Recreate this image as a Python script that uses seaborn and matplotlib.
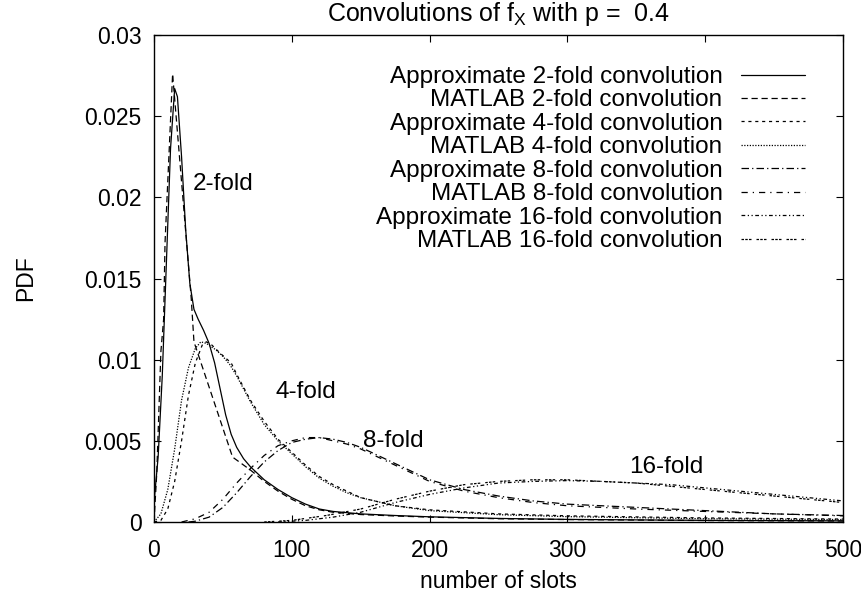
import matplotlib
matplotlib.use("Agg")
import matplotlib.pyplot as plt
import seaborn as sns

# ---------------- data ----------------
x_a2 = [0, 3, 6, 9, 12, 15, 17, 20, 23, 26, 29, 32, 36, 40, 44, 48, 52, 56, 60, 65, 70,
        75, 80, 85, 90, 100, 110, 120, 130, 150, 175, 200, 250, 300, 400, 500]
y_a2 = [0.0012, 0.004, 0.009, 0.016, 0.023, 0.0267, 0.0262, 0.0225, 0.018, 0.0147, 0.0131,
        0.0125, 0.0118, 0.0110, 0.0098, 0.0082, 0.0066, 0.0054, 0.0046, 0.0039, 0.0034,
        0.0030, 0.0026, 0.0023, 0.0020, 0.0015, 0.0011, 0.0008, 0.00065, 0.0005, 0.0004,
        0.00032, 0.00022, 0.00016, 0.0001, 0.00007]

x_m2 = [0, 2, 5, 7, 8, 13.5, 27, 29, 57, 70, 80, 90, 100, 110, 120, 130, 150, 175, 200,
        250, 300, 400, 500]
y_m2 = [0.0, 0.003, 0.0105, 0.0125, 0.0172, 0.0276, 0.0138, 0.0111, 0.0040, 0.0032,
        0.0025, 0.0019, 0.0014, 0.0010, 0.00075, 0.0006, 0.00046, 0.00037, 0.0003,
        0.0002, 0.00015, 0.00009, 0.00006]

x_a4 = [0, 5, 10, 15, 20, 25, 30, 35, 38, 42, 48, 52, 56, 60, 65, 70, 80, 90, 100, 110,
        120, 130, 140, 150, 175, 200, 250, 300, 400, 500]
y_a4 = [0.0, 0.0001, 0.0008, 0.0025, 0.005, 0.0078, 0.0098, 0.0109, 0.0111, 0.0109,
        0.0104, 0.0101, 0.0098, 0.0091, 0.0083, 0.0075, 0.0062, 0.0051, 0.0043, 0.0035,
        0.0028, 0.0023, 0.0019, 0.0015, 0.0010, 0.00075, 0.0005, 0.00038, 0.00025,
        0.00018]

x_m4 = [0, 5, 10, 15, 20, 25, 30, 34, 38, 45, 50, 55, 60, 65, 70, 80, 90, 100, 110, 120,
        130, 140, 150, 175, 200, 250, 300, 400, 500]
y_m4 = [0.0, 0.0005, 0.002, 0.0045, 0.0075, 0.0095, 0.0107, 0.0111, 0.0110, 0.0106,
        0.0102, 0.0097, 0.0090, 0.0082, 0.0074, 0.0060, 0.0050, 0.0042, 0.0034, 0.0027,
        0.0022, 0.0018, 0.0015, 0.0010, 0.0007, 0.00045, 0.00033, 0.0002, 0.00015]

x_a8 = [25, 30, 40, 50, 60, 70, 80, 90, 100, 110, 120, 130, 140, 150, 160, 170, 180, 190,
        200, 225, 250, 275, 300, 350, 400, 450, 500]
y_a8 = [0.0, 0.00005, 0.0003, 0.0009, 0.0018, 0.0028, 0.0037, 0.0044, 0.0049, 0.0051,
        0.0052, 0.0051, 0.0049, 0.0046, 0.0042, 0.0038, 0.0034, 0.0030, 0.0026, 0.0020,
        0.0016, 0.0013, 0.0011, 0.0009, 0.0007, 0.0005, 0.0004]

x_m8 = [20, 30, 40, 50, 60, 70, 80, 90, 100, 110, 120, 130, 140, 150, 160, 170, 180, 190,
        200, 225, 250, 275, 300, 350, 400, 450, 500]
y_m8 = [0.0, 0.0002, 0.0006, 0.0014, 0.0024, 0.0033, 0.0041, 0.0047, 0.0050, 0.0052,
        0.0052, 0.0050, 0.0048, 0.0045, 0.0041, 0.0037, 0.0033, 0.0029, 0.0025, 0.0019,
        0.0015, 0.0012, 0.0010, 0.0008, 0.00065, 0.0005, 0.00038]

x_a16 = [90, 110, 130, 150, 175, 200, 225, 250, 275, 300, 325, 350, 375, 400, 425, 450,
         475, 500]
y_a16 = [0.0, 0.0001, 0.0003, 0.0006, 0.0012, 0.0017, 0.0021, 0.0024, 0.0025, 0.00255,
         0.0025, 0.0024, 0.0023, 0.0021, 0.0019, 0.0017, 0.0015, 0.0013]

x_m16 = [80, 100, 125, 150, 175, 200, 225, 250, 275, 300, 325, 350, 375, 400, 425, 450,
         475, 500]
y_m16 = [0.0, 0.0001, 0.0004, 0.0008, 0.0014, 0.0019, 0.0023, 0.0025, 0.0026, 0.0026,
         0.0025, 0.0024, 0.0022, 0.0020, 0.0018, 0.0016, 0.0014, 0.0012]

series_labels = ["Approximate 2-fold convolution", "MATLAB 2-fold convolution",
                 "Approximate 4-fold convolution", "MATLAB 4-fold convolution",
                 "Approximate 8-fold convolution", "MATLAB 8-fold convolution",
                 "Approximate 16-fold convolution", "MATLAB 16-fold convolution"]

curve_names = ["2-fold", "4-fold", "8-fold", "16-fold"]
curve_name_x = [28, 88, 152, 345]
curve_name_y = [0.0208, 0.0080, 0.0050, 0.0034]

x_ticks = [0, 100, 200, 300, 400, 500]
y_ticks = [0, 0.005, 0.01, 0.015, 0.02, 0.025, 0.03]
y_tick_labels = ["0", "0.005", "0.01", "0.015", "0.02", "0.025", "0.03"]

# ---------------- style ----------------
sns.set_style("ticks")
plt.rcParams["font.family"] = ["Liberation Sans", "DejaVu Sans"]
plt.rcParams["mathtext.fontset"] = "custom"
plt.rcParams["mathtext.rm"] = "Liberation Sans"
plt.rcParams["mathtext.it"] = "Liberation Sans"
plt.rcParams["text.color"] = "black"
plt.rcParams["axes.labelcolor"] = "black"
plt.rcParams["xtick.color"] = "black"
plt.rcParams["ytick.color"] = "black"
FS = 16.5
FS_LEG = 17.5
FS_TITLE = 18

fig = plt.figure(figsize=(8.61, 6.0), dpi=100)
ax = fig.add_axes([154 / 861, 1 - 522 / 600, (843 - 154) / 861, (522 - 35) / 600])

styles = ["-", (0, (5, 3)), (0, (2.5, 3)), (0, (1, 1.2)),
          (0, (6, 2.5, 1, 2.5)), (0, (5, 4, 1, 4)),
          (0, (3, 2, 1, 2, 1, 2)), (0, (2, 1, 2, 1, 2, 4))]
xs = [x_a2, x_m2, x_a4, x_m4, x_a8, x_m8, x_a16, x_m16]
ys = [y_a2, y_m2, y_a4, y_m4, y_a8, y_m8, y_a16, y_m16]

for xv, yv, ls, lab in zip(xs, ys, styles, series_labels):
    sns.lineplot(x=xv, y=yv, ax=ax, color="black", linewidth=0.9, linestyle=ls,
                 label=lab, sort=False, estimator=None)

for name, cx, cy in zip(curve_names, curve_name_x, curve_name_y):
    ax.text(cx, cy, name, fontsize=FS_LEG, ha="left", va="center", color="black")

ax.set_xlim(0, 500)
ax.set_ylim(0, 0.03)
ax.set_xticks(x_ticks)
ax.set_xticklabels([str(t) for t in x_ticks])
ax.set_yticks(y_ticks)
ax.set_yticklabels(y_tick_labels)
ax.tick_params(axis="both", which="both", direction="in", length=5, width=0.8,
               top=True, right=True, labelsize=FS, colors="black")
ax.tick_params(axis="x", pad=12)
ax.tick_params(axis="y", pad=9)
for sp in ax.spines.values():
    sp.set_visible(True)
    sp.set_linewidth(1.0)
    sp.set_color("black")

ax.set_xlabel("number of slots", fontsize=FS, labelpad=6)
ax.set_ylabel("PDF", fontsize=FS, labelpad=34)
ax.set_title(r"Convolutions of f$_{\mathrm{X}}$ with p =  0.4", fontsize=FS_TITLE, pad=10)

leg = ax.legend(loc="upper right", bbox_to_anchor=((805 - 154) / 689, (522 - 66) / 487),
                frameon=False, markerfirst=False, fontsize=FS_LEG, handlelength=2.65,
                handletextpad=0.74, labelspacing=0.06, borderpad=0, borderaxespad=0)
for line in leg.get_lines():
    line.set_linewidth(0.9)

fig.savefig("out.png", dpi=100)
